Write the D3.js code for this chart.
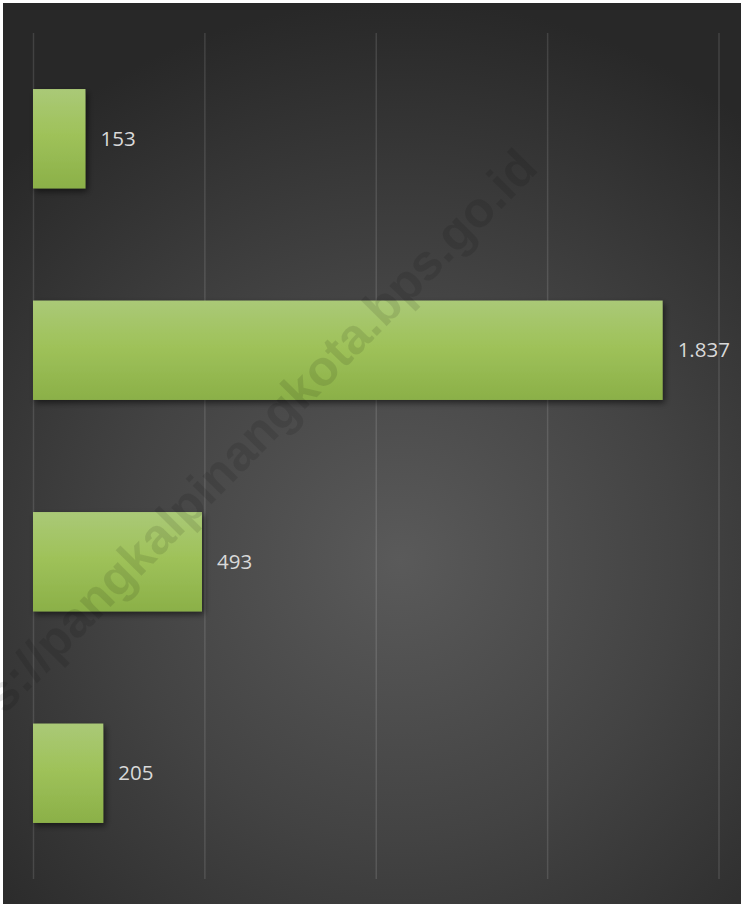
<!DOCTYPE html>
<html>
<head>
<meta charset="utf-8">
<script src="https://cdn.jsdelivr.net/npm/d3@7"></script>
<style>
  html, body { margin: 0; padding: 0; background: #fff; }
  svg { display: block; }
</style>
</head>
<body>
<div id="main"></div>
<script>

var width = 741,
    height = 904;

// four categories, no axis labels shown in the original
var categories = ["k1", "k2", "k3", "k4"];
var values = [153, 1837, 493, 205];
var gridTicks = [0, 500, 1000, 1500, 2000];

var watermark = "https://pangkalpinangkota.bps.go.id";

var plot = { left: 33, right: 718.5, top: 33, bottom: 879 };

// indonesian number format -> 1.837
var idLocale = d3.formatLocale({ decimal: ",", thousands: ".", grouping: [3], currency: ["Rp", ""] });
var fmt = idLocale.format(",d");

var svg = d3.select("div#main").append("svg")
    .attr("width", width)
    .attr("height", height);

var defs = svg.append("defs");

var bg = defs.append("radialGradient")
    .attr("id", "bgGrad")
    .attr("gradientUnits", "userSpaceOnUse")
    .attr("cx", 400).attr("cy", 560).attr("r", 560);
bg.append("stop").attr("offset", "0%").attr("stop-color", "#5a5a5a");
bg.append("stop").attr("offset", "50%").attr("stop-color", "#434343");
bg.append("stop").attr("offset", "100%").attr("stop-color", "#282828");

var barGrad = defs.append("linearGradient")
    .attr("id", "barGrad")
    .attr("x1", 0).attr("y1", 0).attr("x2", 0).attr("y2", 1);
barGrad.append("stop").attr("offset", "0%").attr("stop-color", "#aac977");
barGrad.append("stop").attr("offset", "45%").attr("stop-color", "#9fc25a");
barGrad.append("stop").attr("offset", "100%").attr("stop-color", "#8bb048");

var shadow = defs.append("filter")
    .attr("id", "shadow")
    .attr("x", "-10%").attr("y", "-10%")
    .attr("width", "130%").attr("height", "140%");
shadow.append("feDropShadow")
    .attr("dx", 2).attr("dy", 3)
    .attr("stdDeviation", 3)
    .attr("flood-color", "#000")
    .attr("flood-opacity", 0.55);

// background panel
svg.append("rect")
    .attr("x", 3).attr("y", 3)
    .attr("width", width - 3).attr("height", height - 3)
    .attr("fill", "url(#bgGrad)");

var x = d3.scaleLinear()
    .domain([0, 2000])
    .range([plot.left, plot.right]);

var y = d3.scaleBand()
    .domain(categories)
    .range([plot.top, plot.bottom])
    .paddingInner(0.53)
    .paddingOuter(0.265);

// vertical gridlines
var grid = svg.append("g")
    .attr("class", "grid")
    .attr("transform", "translate(0," + plot.bottom + ")")
    .call(d3.axisBottom(x)
          .tickValues(gridTicks)
          .tickSize(-(plot.bottom - plot.top))
          .tickFormat(""));
grid.select(".domain").remove();
grid.selectAll(".tick line")
    .attr("stroke", "#ffffff")
    .attr("stroke-opacity", 0.12)
    .attr("stroke-width", 1.5);

// bars
svg.selectAll(".bar")
    .data(values)
    .enter().append("rect")
    .attr("class", "bar")
    .attr("x", x(0))
    .attr("y", function(d, i) { return y(categories[i]); })
    .attr("width", function(d) { return x(d) - x(0); })
    .attr("height", y.bandwidth())
    .attr("fill", "url(#barGrad)")
    .attr("filter", "url(#shadow)");

// value labels
svg.selectAll(".label")
    .data(values)
    .enter().append("text")
    .attr("class", "label")
    .attr("x", function(d) { return x(d) + 15; })
    .attr("y", function(d, i) { return y(categories[i]) + y.bandwidth() / 2; })
    .attr("dy", "0.35em")
    .attr("font-family", "'Open Sans', sans-serif")
    .attr("font-size", 20.5)
    .attr("fill", "#d9d9d9")
    .text(function(d) { return fmt(d); });

// watermark
svg.append("text")
    .attr("transform", "translate(540,170) rotate(-45.5)")
    .attr("text-anchor", "end")
    .attr("font-family", "'Liberation Sans', Arial, sans-serif")
    .attr("font-weight", "bold")
    .attr("font-size", 50)
    .attr("fill", "#000")
    .attr("fill-opacity", 0.1)
    .text(watermark);

</script>
</body>
</html>
